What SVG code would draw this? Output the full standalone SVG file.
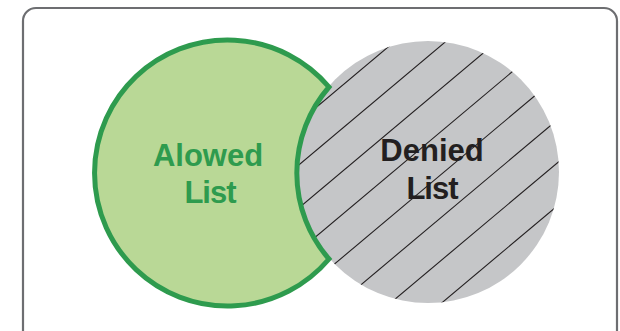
<svg xmlns="http://www.w3.org/2000/svg" width="620" height="331" viewBox="0 0 620 331">
<style>
.frame{fill:#ffffff;stroke:#6d6e71;stroke-width:2.2}
.hatch{stroke:#231f20;stroke-width:1.1}
.lbl{font-family:"Liberation Sans",Arial,sans-serif;font-weight:bold;font-size:31px;text-anchor:middle}
</style>
<defs>
<clipPath id="grayClip"><circle cx="428" cy="172" r="131"/></clipPath>
</defs>
<rect class="frame" x="23" y="8" width="594" height="340" rx="13"/>
<g id="denied">
<circle cx="428" cy="172" r="131" fill="#c5c6c8"/>
<g clip-path="url(#grayClip)">
<line class="hatch" x1="280" y1="137.8" x2="580" y2="-114.2"/>
<line class="hatch" x1="280" y1="180.8" x2="580" y2="-71.2"/>
<line class="hatch" x1="280" y1="223.8" x2="580" y2="-28.2"/>
<line class="hatch" x1="280" y1="266.8" x2="580" y2="14.8"/>
<line class="hatch" x1="280" y1="309.8" x2="580" y2="57.8"/>
<line class="hatch" x1="280" y1="352.8" x2="580" y2="100.8"/>
<line class="hatch" x1="280" y1="395.8" x2="580" y2="143.8"/>
<line class="hatch" x1="280" y1="438.8" x2="580" y2="186.8"/>
</g>
<text class="lbl" x="432" y="161" fill="#231f20">Denied</text>
<text class="lbl" x="432" y="199" fill="#231f20" letter-spacing="-1">List</text>
</g>
<g id="allowed">
<path d="M329,87 A133,133 0 1 0 329,259 A131,131 0 0 1 329,87 Z" fill="#b9d896" stroke="#2e9b4e" stroke-width="5" stroke-linejoin="miter"/>
<text class="lbl" x="208" y="166" fill="#2e9b4e">Alowed</text>
<text class="lbl" x="210" y="203" fill="#2e9b4e" letter-spacing="-1">List</text>
</g>
</svg>
